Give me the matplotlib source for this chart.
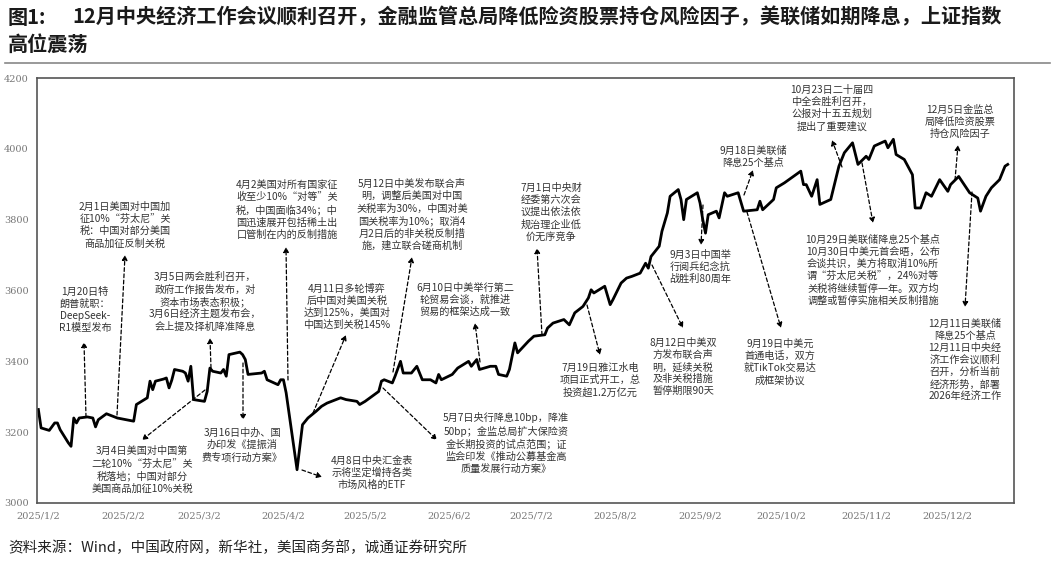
import matplotlib
matplotlib.use("Agg")
import matplotlib.pyplot as plt
import matplotlib.dates as mdates
import pandas as pd

plt.rcParams['font.family'] = ['Noto Sans CJK SC', 'DejaVu Sans']

# 上证指数
dates = ["2025-01-02", "2025-01-03", "2025-01-06", "2025-01-08", "2025-01-09", "2025-01-10",
         "2025-01-13", "2025-01-14", "2025-01-15", "2025-01-16", "2025-01-17", "2025-01-20",
         "2025-01-22", "2025-01-23", "2025-01-24", "2025-01-27", "2025-01-31", "2025-02-06",
         "2025-02-07", "2025-02-10", "2025-02-11", "2025-02-12", "2025-02-13", "2025-02-14",
         "2025-02-17", "2025-02-18", "2025-02-19", "2025-02-20", "2025-02-21", "2025-02-24",
         "2025-02-25", "2025-02-26", "2025-02-27", "2025-02-28", "2025-03-04", "2025-03-05",
         "2025-03-06", "2025-03-07", "2025-03-10", "2025-03-11", "2025-03-12", "2025-03-13",
         "2025-03-17", "2025-03-18", "2025-03-19", "2025-03-20", "2025-03-25", "2025-03-26",
         "2025-03-27", "2025-03-31", "2025-04-01", "2025-04-02", "2025-04-03", "2025-04-07",
         "2025-04-09", "2025-04-11", "2025-04-14", "2025-04-16", "2025-04-18", "2025-04-23",
         "2025-04-25", "2025-04-29", "2025-04-30", "2025-05-02", "2025-05-07", "2025-05-08",
         "2025-05-09", "2025-05-12", "2025-05-13", "2025-05-15", "2025-05-16", "2025-05-19",
         "2025-05-21", "2025-05-23", "2025-05-26", "2025-05-28", "2025-05-29", "2025-05-30",
         "2025-06-03", "2025-06-05", "2025-06-09", "2025-06-10", "2025-06-12", "2025-06-13",
         "2025-06-17", "2025-06-19", "2025-06-20", "2025-06-23", "2025-06-24", "2025-06-26",
         "2025-06-27", "2025-07-01", "2025-07-03", "2025-07-07", "2025-07-08", "2025-07-10",
         "2025-07-14", "2025-07-16", "2025-07-18", "2025-07-21", "2025-07-23", "2025-07-24",
         "2025-07-25", "2025-07-29", "2025-07-31", "2025-08-01", "2025-08-04", "2025-08-06",
         "2025-08-08", "2025-08-11", "2025-08-13", "2025-08-14", "2025-08-15", "2025-08-18",
         "2025-08-19", "2025-08-21", "2025-08-22", "2025-08-25", "2025-08-26", "2025-08-27",
         "2025-08-28", "2025-09-01", "2025-09-02", "2025-09-03", "2025-09-04", "2025-09-05",
         "2025-09-08", "2025-09-09", "2025-09-11", "2025-09-12", "2025-09-16", "2025-09-18",
         "2025-09-23", "2025-09-24", "2025-09-25", "2025-09-29", "2025-09-30", "2025-10-03",
         "2025-10-09", "2025-10-10", "2025-10-11", "2025-10-13", "2025-10-15", "2025-10-16",
         "2025-10-20", "2025-10-23", "2025-10-25", "2025-10-28", "2025-10-30", "2025-11-02",
         "2025-11-03", "2025-11-05", "2025-11-09", "2025-11-10", "2025-11-12", "2025-11-13",
         "2025-11-16", "2025-11-19", "2025-11-20", "2025-11-22", "2025-11-24", "2025-11-26",
         "2025-11-29", "2025-12-02", "2025-12-03", "2025-12-06", "2025-12-08", "2025-12-10",
         "2025-12-13", "2025-12-14", "2025-12-16", "2025-12-18", "2025-12-21", "2025-12-23",
         "2025-12-24"]
values = [3264, 3212, 3205, 3226, 3226, 3207, 3170, 3160, 3240, 3226, 3240, 3243,
          3240, 3215, 3235, 3252, 3240, 3231, 3278, 3292, 3297, 3344, 3320, 3344,
          3350, 3353, 3325, 3347, 3377, 3372, 3367, 3344, 3386, 3292, 3287, 3315,
          3381, 3372, 3367, 3377, 3358, 3419, 3426, 3419, 3405, 3363, 3367, 3372,
          3348, 3334, 3348, 3348, 3311, 3094, 3221, 3240, 3259, 3273, 3282, 3297,
          3292, 3287, 3278, 3287, 3315, 3344, 3348, 3339, 3358, 3400, 3367, 3367,
          3386, 3348, 3348, 3339, 3363, 3348, 3363, 3381, 3400, 3386, 3405, 3377,
          3386, 3386, 3363, 3358, 3377, 3452, 3424, 3457, 3471, 3475, 3494, 3508,
          3518, 3503, 3537, 3555, 3579, 3602, 3593, 3612, 3560, 3574, 3621, 3635,
          3640, 3649, 3677, 3663, 3696, 3725, 3767, 3819, 3866, 3885, 3857, 3800,
          3857, 3876, 3847, 3800, 3762, 3814, 3824, 3805, 3876, 3866, 3876, 3824,
          3828, 3852, 3828, 3857, 3890, 3904, 3937, 3899, 3899, 3866, 3913, 3843,
          3857, 3951, 3989, 4017, 3956, 3979, 3970, 4008, 4022, 4003, 4027, 3984,
          3970, 3927, 3833, 3833, 3876, 3866, 3913, 3880, 3899, 3922, 3899, 3876,
          3861, 3824, 3866, 3890, 3913, 3951, 3956]

tick_dates = pd.date_range("2025-01-01", "2025-12-01", freq="MS") + pd.Timedelta(days=1)
y_ticks = list(range(3000, 4201, 200))

# text, text centre (px), arrow tail on line (px), arrow head (px)
notes = [
    ("1月20日特\n朗普就职：\nDeepSeek-\nR1模型发布", (85, 310), (86, 417), (84, 342)),
    ("2月1日美国对中国加\n征10%“芬太尼”关\n税：中国对部分美国\n商品加征反制关税", (125, 225), (117, 415), (125, 255)),
    ("3月5日两会胜利召开，\n政府工作报告发布，对\n资本市场表态积极；\n3月6日经济主题发布会，\n会上提及择机降准降息", (205, 302), (211, 368), (210, 338)),
    ("4月2美国对所有国家征\n收至少10%“对等”关\n税，中国面临34%；中\n国迅速展开包括稀土出\n口管制在内的反制措施", (287, 210), (288, 380), (286, 247)),
    ("5月12日中美发布联合声\n明，调整后美国对中国\n关税率为30%，中国对美\n国关税率为10%；取消4\n月2日后的非关税反制措\n施，建立联合磋商机制", (412, 215), (393, 372), (412, 257)),
    ("4月11日多轮博弈\n后中国对美国关税\n达到125%，美国对\n中国达到关税145%", (347, 307), (313, 413), (346, 335)),
    ("6月10日中美举行第二\n轮贸易会谈，就推进\n贸易的框架达成一致", (465, 300), (480, 362), (475, 323)),
    ("7月1日中央财\n经委第六次会\n议提出依法依\n规治理企业低\n价无序竞争", (551, 212), (542, 335), (537, 248)),
    ("3月4日美国对中国第\n二轮10%“芬太尼”关\n税落地；中国对部分\n美国商品加征10%关税", (142, 470), (205, 390), (142, 440)),
    ("3月16日中办、国\n办印发《提振消\n费专项行动方案》", (242, 445), (243, 363), (243, 420)),
    ("4月8日中央汇金表\n示将坚定增持各类\n市场风格的ETF", (372, 473), (302, 470), (322, 477)),
    ("5月7日央行降息10bp，降准\n50bp；金监总局扩大保险资\n金长期投资的试点范围；证\n监会印发《推动公募基金高\n质量发展行动方案》", (506, 443), (383, 388), (437, 440)),
    ("7月19日雅江水电\n项目正式开工，总\n投资超1.2万亿元", (600, 380), (587, 305), (600, 355)),
    ("8月12日中美双\n方发布联合声\n明，延续关税\n及非关税措施\n暂停期限90天", (683, 367), (652, 265), (683, 328)),
    ("9月3日中国举\n行阅兵纪念抗\n战胜利80周年", (700, 267), (703, 205), (701, 245)),
    ("9月18日美联储\n降息25个基点", (753, 157), (744, 195), (753, 170)),
    ("9月19日中美元\n首通电话，双方\n就TikTok交易达\n成框架协议", (780, 362), (747, 212), (781, 328)),
    ("10月23日二十届四\n中全会胜利召开，\n公报对十五五规划\n提出了重要建议", (832, 108), (842, 167), (832, 140)),
    ("10月29日美联储降息25个基点\n10月30日中美元首会晤，公布\n会谈共识，美方将取消10%所\n谓“芬太尼关税”，24%对等\n关税将继续暂停一年。双方均\n调整或暂停实施相关反制措施", (873, 270), (862, 163), (873, 223)),
    ("12月5日金监总\n局降低险资股票\n持仓风险因子", (960, 122), (955, 180), (958, 145)),
    ("12月11日美联储\n降息25个基点\n12月11日中央经\n济工作会议顺利\n召开，分析当前\n经济形势，部署\n2026年经济工作", (965, 360), (972, 192), (965, 307)),
]

W, H = 1055, 562
def px(x, y):
    return (x / W, 1 - y / H)

fig = plt.figure(figsize=(W / 100, H / 100), dpi=100)
ax = fig.add_axes([37 / W, 1 - 503 / H, (1014 - 37) / W, (503 - 78) / H])

d = pd.to_datetime(dates)
ax.plot(d, values, color="black", lw=2.0)

start = pd.Timestamp("2025-01-02")
ax.set_xlim(start - pd.Timedelta(hours=12), start + pd.Timedelta(days=358.3))
ax.set_ylim(3000, 4200)
ax.set_yticks(y_ticks)
ax.set_xticks(tick_dates)
ax.set_xticklabels([f"{t.year}/{t.month}/{t.day}" for t in tick_dates])
ax.tick_params(length=0, labelsize=7, labelcolor="#777777", pad=6)
ax.tick_params(axis="y", pad=6)
for lbl in ax.get_xticklabels() + ax.get_yticklabels():
    lbl.set_family("DejaVu Serif")
for s in ax.spines.values():
    s.set_color("#555555")
    s.set_linewidth(1.2)

for text, pos, tail, head in notes:
    fig.text(*px(*pos), text, ha="center", va="center", fontsize=7.3,
             color="#333333", linespacing=1.25)
    fig.add_artist(matplotlib.patches.FancyArrowPatch(
        px(*tail), px(*head), transform=fig.transFigure,
        arrowstyle="-|>,head_length=3,head_width=1.6", linestyle=(0, (3, 2)),
        color="black", lw=0.9, shrinkA=0, shrinkB=0))

fig.text(8 / W, 1 - 17 / H, "图1:", fontsize=14.5, weight="bold", va="center", color="#1a1a1a")
fig.text(72 / W, 1 - 17 / H,
         "12月中央经济工作会议顺利召开，金融监管总局降低险资股票持仓风险因子，美联储如期降息，上证指数",
         fontsize=14.5, weight="bold", va="center", color="#1a1a1a")
fig.text(8 / W, 1 - 44 / H, "高位震荡", fontsize=14.5, weight="bold", va="center", color="#1a1a1a")
fig.add_artist(plt.Line2D([0.005, 0.995], [1 - 63 / H] * 2, color="#888888", lw=1.2))
fig.text(8 / W, 1 - 548 / H, "资料来源：Wind，中国政府网，新华社，美国商务部，诚通证券研究所",
         fontsize=10.5, va="center", color="#222222")

fig.savefig("out.png", dpi=100)
